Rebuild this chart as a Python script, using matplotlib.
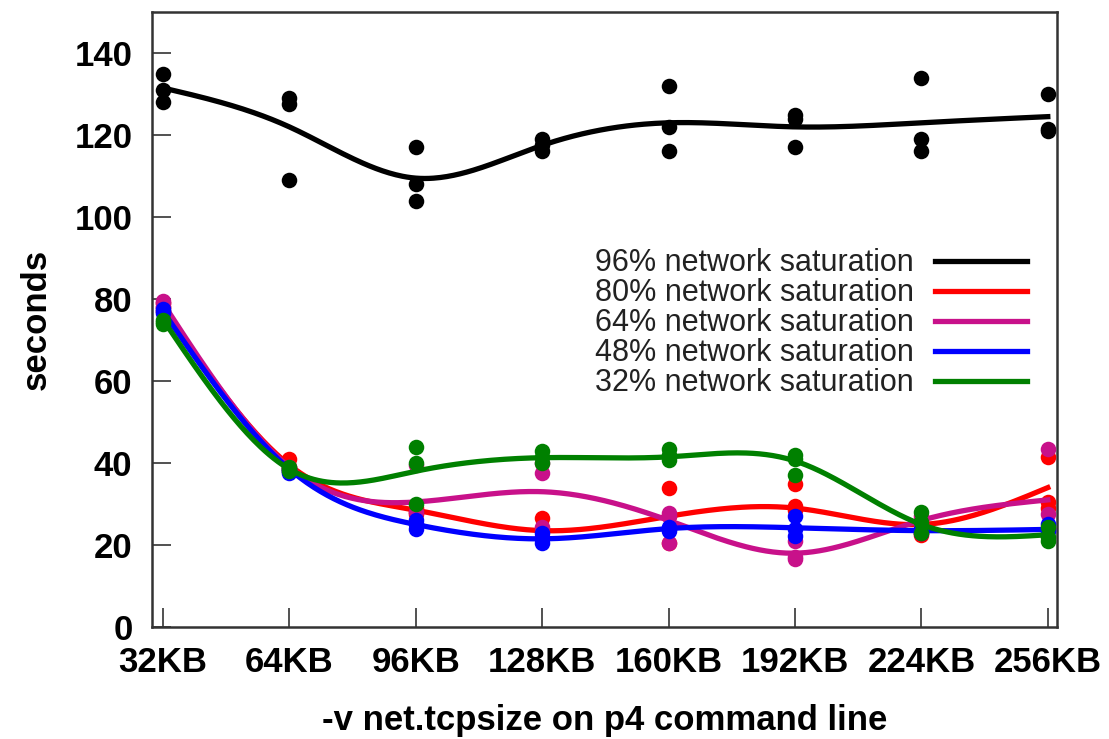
import numpy as np
import matplotlib
matplotlib.use("Agg")
import matplotlib.pyplot as plt

# tcp buffer sizes (KB) and tick labels
sizes = [32, 64, 96, 128, 160, 192, 224, 256]
size_labels = ["32KB", "64KB", "96KB", "128KB", "160KB", "192KB", "224KB", "256KB"]

# individual runs (seconds), three per buffer size
runs_96 = [[135, 131, 128], [129, 127.5, 109], [117, 108, 104], [119, 117.5, 116],
           [132, 122, 116], [125, 124, 117], [134, 119, 116], [130, 121.5, 121]]
runs_80 = [[79, 78, 77], [41, 39, 38.5], [29, 28, 27.5], [26.5, 24, 22],
           [34, 27, 20.5], [35, 29.5, 28.5], [25, 23, 22.5], [41.5, 30.5, 29]]
runs_64 = [[79.5, 79, 78], [39, 38.5, 38], [39.5, 28, 25], [40, 37.5, 24.5],
           [27.8, 27, 20.5], [17, 16.5, 21], [27, 25, 24], [43.5, 27.5, 24]]
runs_48 = [[77.5, 77, 76.5], [38.5, 38, 37.5], [26, 25, 24], [23, 21.5, 20.5],
           [24.5, 24, 23.5], [27, 24, 22.2], [24, 23.5, 23], [25, 24, 23.5]]
runs_32 = [[75, 74.5, 74], [39, 38.5, 38], [44, 40, 30], [43, 41.5, 40],
           [43.3, 42, 40.8], [42, 41, 37], [28, 25.5, 23], [24.5, 22, 21]]

# smoothed trend values at each buffer size
fit_96 = [131.5, 122, 109.5, 117.5, 123, 122, 123, 124.5]
fit_80 = [78, 39.5, 28.5, 23.5, 27, 29, 25, 34]
fit_64 = [79, 39, 30.5, 33, 26, 18, 26, 31]
fit_48 = [77, 38.5, 25, 21.5, 24, 24.2, 23.5, 23.8]
fit_32 = [75, 38.5, 38, 41.3, 41.5, 40.5, 25, 22.5]

series_names = ["96% network saturation", "80% network saturation",
                "64% network saturation", "48% network saturation",
                "32% network saturation"]
colors = ["#000000", "#ff0000", "#c8118a", "#0000ff", "#008000"]


def natural_spline(x, y, xs):
    # natural cubic spline through the knots
    x = np.asarray(x, float)
    y = np.asarray(y, float)
    n = len(x)
    h = np.diff(x)
    A = np.zeros((n, n))
    b = np.zeros(n)
    A[0, 0] = A[-1, -1] = 1
    for i in range(1, n - 1):
        A[i, i - 1] = h[i - 1]
        A[i, i] = 2 * (h[i - 1] + h[i])
        A[i, i + 1] = h[i]
        b[i] = 3 * ((y[i + 1] - y[i]) / h[i] - (y[i] - y[i - 1]) / h[i - 1])
    c = np.linalg.solve(A, b)
    idx = np.clip(np.searchsorted(x, xs) - 1, 0, n - 2)
    dx = xs - x[idx]
    hi = h[idx]
    bb = (y[idx + 1] - y[idx]) / hi - hi * (2 * c[idx] + c[idx + 1]) / 3
    d = (c[idx + 1] - c[idx]) / (3 * hi)
    return y[idx] + bb * dx + c[idx] * dx ** 2 + d * dx ** 3


plt.rcParams["font.family"] = ["Liberation Sans", "DejaVu Sans"]

fig = plt.figure(figsize=(11.09, 7.39), dpi=100)
ax = fig.add_axes([0.137, 0.1516, 0.816, 0.832])

xs = np.linspace(sizes[0], sizes[-1], 400)
all_runs = [runs_96, runs_80, runs_64, runs_48, runs_32]
all_fits = [fit_96, fit_80, fit_64, fit_48, fit_32]
for runs, fit, name, col in zip(all_runs, all_fits, series_names, colors):
    px = np.repeat(sizes, 3)
    py = np.array(runs).ravel()
    ax.scatter(px, py, s=125, color=col, zorder=3, linewidths=0)
    ax.plot(xs, natural_spline(sizes, fit, xs), color=col, lw=3.8,
            label=name, zorder=3)

ax.set_xlim(29.2, 258.3)
ax.set_ylim(0, 150)
ax.set_xticks(sizes)
ax.set_xticklabels(size_labels)
ax.set_yticks(range(0, 141, 20))
ax.tick_params(direction="in", length=14, width=1.2, labelsize=25, color="#333333")
ax.tick_params(axis="x", pad=14)
ax.tick_params(axis="y", pad=14)
for lab in ax.get_xticklabels() + ax.get_yticklabels():
    lab.set_fontweight("bold")
for sp in ax.spines.values():
    sp.set_linewidth(1.8)
    sp.set_color("#333333")

ax.set_xlabel("-v net.tcpsize on p4 command line", fontsize=25,
              fontweight="bold", labelpad=18)
ax.set_ylabel("seconds", fontsize=25, fontweight="bold", labelpad=16)

leg = ax.legend(loc="upper right", bbox_to_anchor=(0.967, 0.616), frameon=False,
                markerfirst=False, fontsize=22, handlelength=3.0,
                handletextpad=0.7, labelspacing=0.0, borderaxespad=0,
                borderpad=0)
for t in leg.get_texts():
    t.set_color("#222222")

plt.savefig("out.png", dpi=100)
